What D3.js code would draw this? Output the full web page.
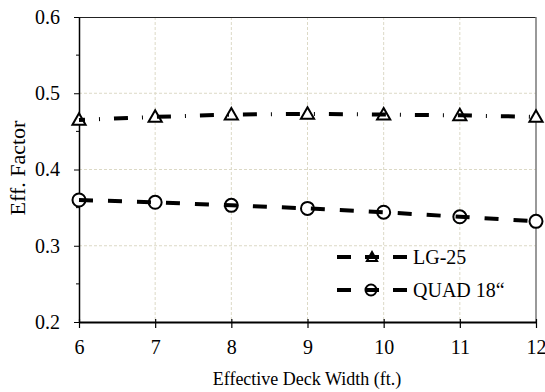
<!DOCTYPE html>
<html>
<head>
<meta charset="utf-8">
<script src="https://cdn.jsdelivr.net/npm/d3@7"></script>
<style>
  body { margin: 0; background: #fff; }
  svg text { font-family: "Liberation Serif", "Times New Roman", serif; fill: #000; }
</style>
</head>
<body>
<div id="container"></div>
<script>
// data
const widths = [6, 7, 8, 9, 10, 11, 12];
const lg25 = [0.465, 0.469, 0.472, 0.473, 0.472, 0.471, 0.469];
const quad18 = [0.360, 0.357, 0.353, 0.349, 0.344, 0.338, 0.332];
const yTicks = [0.2, 0.3, 0.4, 0.5, 0.6];
const yMinor = [0.25, 0.35, 0.45, 0.55];
const seriesNames = ["LG-25", "QUAD 18\u201C"];

// dimensions
const w = 545;
const h = 392;
const plotL = 79, plotR = 536, plotT = 17, plotB = 322;

const xScale = d3.scaleLinear().domain([6, 12]).range([plotL, plotR]);
const yScale = d3.scaleLinear().domain([0.2, 0.6]).range([plotB, plotT]);

const svg = d3.select("#container")
              .append("svg")
              .attr("width", w)
              .attr("height", h);

// grid
svg.append("g")
   .selectAll("line")
   .data(widths.slice(1, -1))
   .enter()
   .append("line")
   .attr("x1", (d) => xScale(d)).attr("x2", (d) => xScale(d))
   .attr("y1", plotT).attr("y2", plotB)
   .attr("stroke", "#dcd9c6")
   .attr("stroke-width", 1)
   .attr("stroke-dasharray", "3,2");

svg.append("g")
   .selectAll("line")
   .data([0.3, 0.4, 0.5])
   .enter()
   .append("line")
   .attr("x1", plotL).attr("x2", plotR)
   .attr("y1", (d) => yScale(d)).attr("y2", (d) => yScale(d))
   .attr("stroke", "#dcd9c6")
   .attr("stroke-width", 1)
   .attr("stroke-dasharray", "3,2");

// frame: top and right
svg.append("line")
   .attr("x1", plotL).attr("x2", plotR)
   .attr("y1", plotT + 0.5).attr("y2", plotT + 0.5)
   .attr("stroke", "#222").attr("stroke-width", 1);
svg.append("line")
   .attr("x1", plotR).attr("x2", plotR)
   .attr("y1", plotT).attr("y2", plotB)
   .attr("stroke", "#777").attr("stroke-width", 1.5);

// y axis
const yAxis = d3.axisLeft(yScale)
                .tickValues(yTicks)
                .tickFormat(d3.format(".1f"))
                .tickSizeInner(5)
                .tickSizeOuter(0)
                .tickPadding(14);
const gy = svg.append("g")
   .attr("transform", "translate(" + plotL + ",0)")
   .call(yAxis);
gy.select(".domain").attr("stroke", "#000").attr("stroke-width", 1.5);
gy.selectAll(".tick line").attr("stroke-width", 1);
gy.selectAll("text").style("font-size", "20px");
gy.selectAll(".minor")
  .data(yMinor)
  .enter()
  .append("line")
  .attr("class", "minor")
  .attr("x1", -3).attr("x2", 0)
  .attr("y1", (d) => yScale(d)).attr("y2", (d) => yScale(d))
  .attr("stroke", "#000");

// x axis
const xAxis = d3.axisBottom(xScale)
                .tickValues(widths)
                .tickFormat(d3.format("d"))
                .tickSizeInner(6)
                .tickSizeOuter(0)
                .tickPadding(12);
const gx = svg.append("g")
   .attr("transform", "translate(0," + plotB + ")")
   .call(xAxis);
gx.select(".domain").attr("stroke", "#000").attr("stroke-width", 2.2);
gx.selectAll(".tick line").attr("y1", -3).attr("stroke-width", 1.2);
gx.selectAll("text").style("font-size", "20px");

// axis labels
svg.append("text")
   .attr("x", 307)
   .attr("y", 385)
   .attr("text-anchor", "middle")
   .style("font-size", "18px")
   .text("Effective Deck Width (ft.)");

svg.append("text")
   .attr("transform", "translate(25,168)rotate(-90)")
   .attr("text-anchor", "middle")
   .style("font-size", "22px")
   .text("Eff. Factor");

// markers
const tri = d3.symbol().type(d3.symbolTriangle).size(75);
const line = d3.line().x((d) => xScale(d[0])).y((d) => yScale(d[1]));
const lgPts = widths.map((x, i) => [x, lg25[i]]);
const quadPts = widths.map((x, i) => [x, quad18[i]]);

svg.append("g")
   .selectAll("path")
   .data(lgPts)
   .enter()
   .append("path")
   .attr("d", tri)
   .attr("transform", (d) => "translate(" + xScale(d[0]) + "," + (yScale(d[1]) + 1) + ")")
   .attr("fill", "#fff").attr("stroke", "#000").attr("stroke-width", 2);

svg.append("g")
   .selectAll("circle")
   .data(quadPts)
   .enter()
   .append("circle")
   .attr("cx", (d) => xScale(d[0]))
   .attr("cy", (d) => yScale(d[1]))
   .attr("r", 6.5)
   .attr("fill", "#fff").attr("stroke", "#000").attr("stroke-width", 2);

// lines
svg.append("path")
   .datum(lgPts)
   .attr("d", line)
   .attr("fill", "none").attr("stroke", "#000")
   .attr("stroke-width", 4)
   .attr("stroke-dasharray", "14,14,1,14")
   .attr("stroke-dashoffset", 8);

svg.append("path")
   .datum(quadPts)
   .attr("d", line)
   .attr("fill", "none").attr("stroke", "#000")
   .attr("stroke-width", 4)
   .attr("stroke-dasharray", "14,15");

// legend
const legend = [
  {name: seriesNames[0], y: 257, marker: "tri", dash: "14,14"},
  {name: seriesNames[1], y: 290, marker: "circle", dash: "14,14"}
];
legend.forEach(function(item){
  if (item.marker === "tri") {
    svg.append("path")
       .attr("d", d3.symbol().type(d3.symbolTriangle).size(45))
       .attr("transform", "translate(372," + (item.y + 1) + ")")
       .attr("fill", "#fff").attr("stroke", "#000").attr("stroke-width", 2);
  } else {
    svg.append("circle")
       .attr("cx", 371).attr("cy", item.y).attr("r", 5.5)
       .attr("fill", "#fff").attr("stroke", "#000").attr("stroke-width", 2);
  }
  svg.append("line")
     .attr("x1", 337).attr("x2", 407)
     .attr("y1", item.y).attr("y2", item.y)
     .attr("stroke", "#000").attr("stroke-width", 4)
     .attr("stroke-dasharray", item.dash);
  svg.append("text")
     .attr("x", 413)
     .attr("y", item.y + 7)
     .style("font-size", "20px")
     .text(item.name);
});
</script>
</body>
</html>
